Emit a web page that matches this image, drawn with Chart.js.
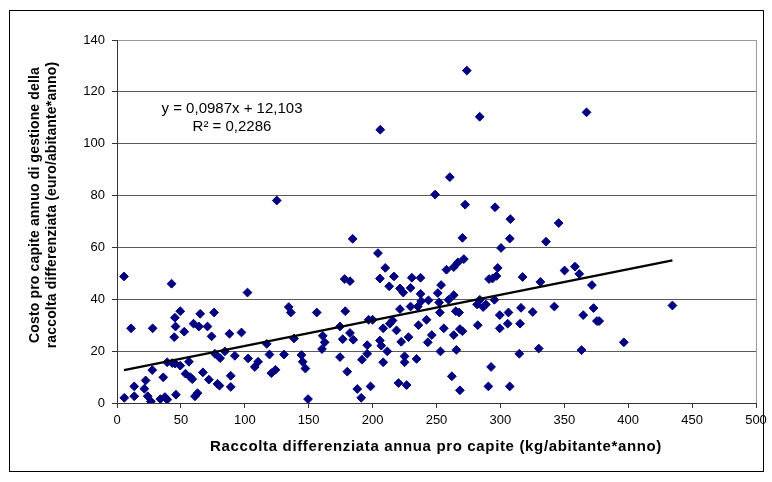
<!DOCTYPE html>
<html>
<head>
<meta charset="utf-8">
<script src="https://cdn.jsdelivr.net/npm/chart.js@4"></script>
<style>
  html, body { margin: 0; padding: 0; background: #fff; }
  #wrap { width: 772px; height: 482px; position: relative; }
</style>
</head>
<body>
<div id="wrap"><canvas id="c" width="772" height="482"></canvas></div>
<script>
// Raccolta differenziata pro capite (kg/abitante*anno) per comune
const raccolta = [
  5.5, 11.0, 5.7, 13.5, 13.5, 21.4, 22.4, 24.0, 26.5, 27.6, 27.9, 33.9, 36.2, 37.5, 39.3, 39.3,
  42.7, 43.2, 45.3, 45.8, 44.8, 46.1, 49.5, 49.5, 52.6, 53.6, 56.3, 57.3, 58.9, 59.9, 61.0, 63.0,
  64.1, 65.1, 67.2, 70.8, 71.9, 74.0, 76.0, 76.6, 78.6, 80.2, 80.7, 84.4, 88.0, 89.0, 89.0, 92.2,
  97.4, 102.6, 102.1, 107.8, 110.4, 117.2, 119.3, 120.8, 124.0, 125.0, 130.7, 134.4, 136.0, 138.5,
  144.3, 145.3, 147.4, 149.5, 156.3, 160.4, 161.0, 162.5, 174.5, 174.5, 176.6, 178.1, 182.3, 178.6,
  180.2, 182.3, 184.9, 184.4, 188.0, 191.1, 191.7, 195.8, 195.8, 196.9, 198.4, 200.0, 204.2, 205.7,
  205.7, 206.8, 208.3, 208.3, 209.9, 211.5, 213.0, 213.5, 215.6, 216.7, 218.7, 220.3, 221.4, 221.4,
  222.4, 224.0, 225.0, 225.0, 226.6, 228.1, 229.7, 229.7, 230.7, 234.4, 235.9, 237.5, 237.5, 238.0,
  242.2, 243.2, 243.7, 246.3, 248.9, 251.0, 252.1, 252.6, 253.1, 253.6, 255.7, 257.8, 259.4, 260.4,
  262.0, 263.5, 263.5, 263.5, 265.1, 265.6, 266.7, 267.7, 268.3, 268.3, 270.3, 270.3, 271.4, 272.4,
  281.8, 282.3, 283.9, 286.5, 288.6, 290.6, 291.1, 292.7, 293.8, 295.3, 295.8, 296.9, 297.9, 299.5,
  299.5, 300.5, 305.7, 306.3, 307.3, 307.3, 307.8, 235.4, 45.5, 317.4, 273.7, 206.0, 283.8, 367.4,
  345.6, 335.7, 350.2, 358.3, 361.7, 371.6, 331.3, 325.3, 342.2, 364.8, 372.9, 375.5, 377.3, 434.6,
  330.0, 363.5, 396.6, 316.1, 315.4, 314.8
];
// Costo pro capite annuo di gestione (euro/abitante*anno), stesso ordine
const costo = [
  48.8, 28.8, 2.0, 6.4, 2.6, 5.5, 8.7, 2.6, 0.6, 12.7, 28.8, 1.5, 9.9, 2.3, 1.3, 15.7,
  46.0, 15.4, 32.9, 29.5, 25.4, 3.2, 35.4, 14.4, 27.5, 11.3, 15.9, 10.0, 9.2, 30.6, 2.6, 3.8,
  29.5, 34.4, 11.8, 29.5, 9.0, 25.7, 34.9, 19.0, 7.4, 6.7, 17.3, 19.9, 26.7, 10.5, 6.2, 18.2,
  27.2, 17.2, 42.6, 13.9, 15.9, 22.8, 18.7, 11.5, 12.8, 78.1, 18.7, 37.0, 34.9, 24.9,
  18.5, 15.9, 13.3, 1.5, 34.9, 20.8, 25.9, 23.4, 29.5, 17.7, 24.6, 47.8, 47.0, 35.4,
  12.1, 27.0, 24.4, 63.3, 5.4, 2.0, 16.7, 19.0, 22.3, 32.1, 6.4, 32.1, 57.8, 48.0,
  24.1, 22.1, 28.8, 15.7, 52.1, 19.9, 45.0, 30.6, 31.8, 48.8, 28.0, 7.7, 44.2, 36.2,
  23.6, 42.6, 18.0, 15.7, 6.9, 25.4, 44.4, 37.2, 48.3, 17.0, 30.0, 48.3, 42.1, 39.3,
  32.1, 23.4, 39.6, 26.2, 80.4, 42.4, 38.8, 34.9, 19.9, 45.5, 28.8, 51.4, 39.8, 87.1,
  10.3, 41.6, 26.2, 52.4, 35.4, 20.5, 54.2, 34.9, 28.5, 4.9, 63.7, 27.7, 55.5, 76.5,
  38.0, 30.0, 39.8, 37.0, 38.0, 6.4, 47.8, 13.9, 48.0, 39.8, 75.5, 49.0, 52.1, 33.9,
  28.8, 59.8, 30.6, 34.9, 6.4, 63.4, 70.9, 37.2, 15.2, 48.6, 128.2, 105.4, 110.4, 112.1,
  69.4, 62.2, 51.1, 52.6, 49.8, 45.5, 46.7, 35.1, 37.2, 33.9, 36.6, 31.6, 31.6, 37.6,
  21.0, 20.4, 23.4, 36.7, 30.6, 19.0
];

// Tick values of both axes
const xTicks = [0, 50, 100, 150, 200, 250, 300, 350, 400, 450, 500];
const yTicks = [0, 20, 40, 60, 80, 100, 120, 140];

// Linear trend line and its labels
const trendSlope = 0.0987;
const trendIntercept = 12.103;
const trendLabel = 'y = 0,0987x + 12,103';
const r2Label = 'R² = 0,2286';

const xTitle = 'Raccolta differenziata annua pro capite (kg/abitante*anno)';
const yTitle = ['Costo pro capite annuo di gestione della', 'raccolta differenziata (euro/abitante*anno)'];

const FONT = "'Liberation Sans', Arial, sans-serif";

const points = raccolta.map((x, i) => ({ x: x, y: costo[i] }));
const xMin = Math.min(...raccolta);
const xMax = Math.max(...raccolta);
const trendPoints = [
  { x: xMin, y: trendSlope * xMin + trendIntercept },
  { x: xMax, y: trendSlope * xMax + trendIntercept }
];

function spaced(ctx, px) {
  if ('letterSpacing' in ctx) ctx.letterSpacing = px + 'px';
}

// Frame, plot border, axis titles and trend equation
const decorations = {
  id: 'decorations',
  beforeDatasetsDraw(chart) {
    const { ctx, chartArea: a } = chart;
    ctx.save();
    ctx.strokeStyle = '#9a9a9a';
    ctx.lineWidth = 1;
    ctx.beginPath();
    ctx.moveTo(Math.round(a.right) + 0.5, a.top);
    ctx.lineTo(Math.round(a.right) + 0.5, a.bottom);
    ctx.stroke();
    ctx.restore();
  },
  afterDraw(chart) {
    const { ctx } = chart;
    ctx.save();
    // outer frame
    ctx.strokeStyle = '#000';
    ctx.lineWidth = 1;
    ctx.strokeRect(9.5, 10.5, 754, 461);

    ctx.fillStyle = '#000';
    ctx.textAlign = 'center';
    ctx.textBaseline = 'middle';

    // x axis title
    ctx.font = 'bold 15px ' + FONT;
    spaced(ctx, 0.65);
    ctx.fillText(xTitle, 436, 447);

    // y axis title, two rotated lines
    ctx.font = 'bold 14px ' + FONT;
    spaced(ctx, 0.15);
    ctx.save();
    ctx.translate(35, 205);
    ctx.rotate(-Math.PI / 2);
    ctx.fillText(yTitle[0], 0, 0);
    ctx.restore();
    ctx.save();
    ctx.translate(52, 205);
    ctx.rotate(-Math.PI / 2);
    ctx.fillText(yTitle[1], 0, 0);
    ctx.restore();

    // trend equation
    spaced(ctx, 0);
    ctx.font = '15px ' + FONT;
    ctx.textBaseline = 'alphabetic';
    ctx.fillText(trendLabel, 232, 113);
    ctx.fillText(r2Label, 232, 131);
    ctx.restore();
  }
};

new Chart(document.getElementById('c'), {
  type: 'scatter',
  data: {
    datasets: [
      {
        label: 'Lineare',
        data: trendPoints,
        showLine: true,
        borderColor: '#000',
        borderWidth: 2.25,
        pointRadius: 0,
        fill: false
      },
      {
        label: 'Comuni',
        data: points,
        pointStyle: 'rectRot',
        pointRadius: 4.4,
        pointBackgroundColor: '#000080',
        pointBorderColor: '#000080',
        pointBorderWidth: 1
      }
    ]
  },
  options: {
    responsive: false,
    animation: false,
    devicePixelRatio: 1,
    layout: { padding: { top: 40, right: 16, bottom: 0, left: 0 } },
    plugins: {
      legend: { display: false },
      tooltip: { enabled: false }
    },
    scales: {
      x: {
        type: 'linear',
        min: 0,
        max: 500,
        afterBuildTicks(scale) { scale.ticks = xTicks.map(v => ({ value: v })); },
        afterFit(scale) { scale.height = 79; },
        ticks: {
          color: '#000',
          font: { family: FONT, size: 13 },
          padding: 5,
          maxRotation: 0
        },
        grid: {
          drawOnChartArea: false,
          drawTicks: true,
          tickLength: 5,
          tickColor: '#333'
        },
        border: { display: true, color: '#333', width: 1 }
      },
      y: {
        type: 'linear',
        min: 0,
        max: 140,
        afterBuildTicks(scale) { scale.ticks = yTicks.map(v => ({ value: v })); },
        afterFit(scale) { scale.width = 117; },
        ticks: {
          color: '#000',
          font: { family: FONT, size: 13 },
          padding: 7
        },
        grid: {
          color: ctx => (ctx.tick && ctx.tick.value === 140 ? '#9a9a9a' : '#5a5a5a'),
          lineWidth: 1,
          drawTicks: true,
          tickLength: 5,
          tickColor: '#333'
        },
        border: { display: true, color: '#333', width: 1 }
      }
    }
  },
  plugins: [decorations]
});
</script>
</body>
</html>
